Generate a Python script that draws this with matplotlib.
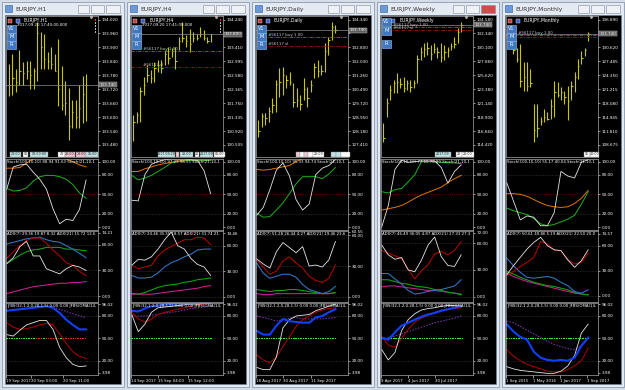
import numpy as np
import matplotlib
matplotlib.use("Agg")
import matplotlib.pyplot as plt
from matplotlib.patches import Rectangle
from matplotlib.transforms import blended_transform_factory

W, H = 625, 390

# ---------------------------------------------------------------- data
titles = ["EURJPY,H1", "EURJPY,H4", "EURJPY,Daily", "EURJPY,Weekly", "EURJPY,Monthly"]
stamps = ["2017.09.20 17:40:00.000", "2017.09.20 17:41:00.000", None, None, None]
current_price = [133.740, 133.800, 133.740, 133.740, 133.740]
buy_level = [None, 133.31, 133.35, 133.40, 133.35]
sl_level = [None, 132.83, 132.87, 132.87, 132.85]
sl_caption = [False, True, True, True, False]

h1_high = [133.827, 133.871, 133.806, 133.890, 133.835, 133.842, 133.842, 133.813, 134.011, 133.968,
           133.958, 133.878, 133.900, 133.871, 133.936, 133.820, 133.755, 133.726, 133.675, 133.675,
           133.740, 133.777, 133.784]
h1_low = [133.690, 133.697, 133.707, 133.736, 133.740, 133.762, 133.719, 133.719, 133.755, 133.806,
          133.806, 133.806, 133.806, 133.798, 133.646, 133.632, 133.610, 133.501, 133.552, 133.552,
          133.552, 133.574, 133.581]
h1_close = [133.74, 133.77, 133.75, 133.80, 133.79, 133.80, 133.78, 133.80, 133.96, 133.90, 133.85,
            133.84, 133.83, 133.80, 133.72, 133.65, 133.66, 133.56, 133.62, 133.60, 133.64, 133.70, 133.74]

h4_high = [131.40, 131.50, 132.24, 132.54, 132.88, 132.74, 132.98, 133.03, 133.03, 133.33, 133.43,
           133.38, 133.43, 133.72, 134.17, 133.77, 133.97, 133.87, 133.82, 134.02, 133.92, 133.72, 133.82]
h4_low = [130.61, 131.15, 131.20, 131.99, 132.39, 132.34, 132.39, 132.68, 132.64, 132.88, 132.93,
          133.13, 132.78, 133.33, 133.58, 133.43, 133.28, 133.58, 133.63, 133.72, 133.63, 133.53, 133.58]
h4_close = [131.2, 131.4, 132.1, 132.3, 132.6, 132.5, 132.8, 132.9, 132.8, 133.2, 133.1, 133.3,
            133.0, 133.6, 133.7, 133.6, 133.5, 133.7, 133.7, 133.8, 133.7, 133.6, 133.8]

d1_high = [128.79, 129.16, 129.16, 129.52, 129.98, 130.99, 131.64, 131.73, 131.27, 131.45, 130.81,
           130.53, 130.17, 131.09, 130.63, 130.99, 131.91, 132.10, 131.82, 133.02, 133.38, 134.21, 134.03]
d1_low = [127.87, 128.42, 128.51, 128.70, 129.16, 129.25, 130.08, 130.17, 130.54, 130.72, 129.52,
          129.52, 129.34, 129.89, 129.52, 130.35, 131.09, 131.18, 131.27, 131.45, 132.37, 133.20, 133.57]
d1_close = [128.2, 129.0, 128.9, 129.3, 129.6, 130.8, 130.9, 131.3, 131.0, 130.9, 129.8, 129.9,
            129.7, 130.5, 130.0, 130.7, 131.7, 131.5, 131.5, 132.6, 133.2, 133.9, 133.74]

w1_high = [117.90, 121.91, 124.05, 124.85, 125.92, 125.12, 125.39, 124.85, 124.85, 124.85, 128.86, 130.20,
           130.73, 131.00, 130.46, 130.73, 130.20, 130.73, 130.46, 130.20, 130.73, 131.80, 133.14, 134.21]
w1_low = [114.96, 118.97, 121.64, 122.71, 122.71, 123.51, 122.98, 123.25, 122.98, 123.51, 124.32, 128.06,
          128.59, 128.86, 128.06, 129.13, 128.33, 127.79, 128.06, 128.59, 129.66, 129.93, 130.73, 132.60]
w1_close = [115.5, 121.2, 123.3, 124.3, 124.5, 124.2, 123.6, 124.3, 123.8, 124.3, 128.3, 129.3,
            129.8, 130.0, 129.0, 129.8, 129.3, 128.5, 129.4, 129.7, 130.3, 130.6, 132.6, 133.74]

mn_high = [133.92, 131.69, 130.57, 131.32, 127.23, 127.23, 125.75, 117.94, 117.94, 114.97, 116.83, 116.09,
           119.06, 123.15, 122.77, 121.66, 120.92, 122.03, 123.15, 125.00, 127.97, 129.83, 130.57, 134.00]
mn_low = [130.57, 129.09, 127.23, 121.66, 120.92, 120.92, 121.66, 109.40, 110.51, 113.11, 113.86, 114.23,
          114.60, 114.97, 119.43, 118.69, 117.94, 114.23, 118.69, 120.55, 123.52, 126.86, 128.72, 132.00]
mn_close = [131.5, 130.0, 128.0, 123.0, 124.0, 122.0, 122.5, 112.0, 112.5, 114.0, 115.0, 114.5,
            117.5, 120.5, 120.0, 120.5, 119.5, 118.5, 122.0, 124.0, 126.5, 128.3, 130.0, 133.74]

h1_ticks = [134.020, 133.960, 133.900, 133.840, 133.780, 133.720, 133.660, 133.600, 133.540, 133.480]
h4_ticks = [134.240, 133.825, 133.410, 132.995, 132.580, 132.165, 131.750, 131.335, 130.920, 130.505]
d1_ticks = [134.340, 133.570, 132.800, 132.030, 131.260, 130.490, 129.720, 128.950, 128.180, 127.410]
w1_ticks = [134.580, 132.340, 130.100, 127.860, 125.620, 123.380, 121.140, 118.900, 116.660, 114.420]
mn_ticks = [136.890, 133.755, 130.620, 127.485, 124.350, 121.215, 118.080, 114.945, 111.810, 108.675]

# Stochastic (white = fast, green = Stoch(21), orange = Stoch(100)), 13 evenly spaced readings
h1_st_white = [58, 92, 95, 96, 84, 73, 58, 28, 5, 12, 10, 27, 72]
h1_st_green = [59, 55, 56, 60, 70, 77, 79, 79, 77, 73, 65, 52, 44]
h1_st_orange = [90, 90, 91, 98, 104, 106, 107, 107, 106, 104, 100, 95, 92]
h4_st_white = [41, 40, 80, 96, 100, 103, 104, 104, 104, 103, 102, 86, 51]
h4_st_green = [79, 72, 75, 79, 85, 91, 98, 100, 101, 102, 102, 102, 102]
h4_st_orange = [85, 85, 89, 92, 95, 97, 99, 101, 102, 102, 102, 102, 102]
d1_st_white = [18, 30, 57, 87, 98, 78, 42, 26, 35, 80, 90, 94, 103]
d1_st_green = [21, 15, 16, 26, 37, 51, 66, 77, 77, 77, 74, 81, 91]
d1_st_orange = [88, 87, 88, 90, 92, 94, 100, 105, 107, 107, 107, 107, 107]
w1_st_white = [0, 33, 88, 102, 99, 100, 101, 101, 101, 91, 67, 85, 95]
w1_st_green = [54, 52, 57, 59, 69, 80, 100, 100, 100, 99, 98, 98, 97]
w1_st_orange = [26, 28, 30, 33, 38, 44, 49, 53, 57, 61, 68, 74, 79]
mn_st_white = [68, 40, 11, 17, 15, 2, 2, 22, 85, 78, 75, 99, 103]
mn_st_green = [29, 25, 22, 19, 13, 5, 2, 4, 8, 12, 18, 35, 54]
mn_st_orange = [51, 51, 50, 47, 42, 37, 33, 31, 30, 31, 36, 44, 56]

# ADX
h1_adx_white = [38, 45, 58, 64, 47, 47, 32, 29, 26, 32, 36, 34, 30]
h1_adx_red = [44, 52, 59, 65, 68, 68, 62, 54, 47, 39, 36, 29, 24]
h1_adx_blue = [61, 63, 65, 67, 68, 69, 66, 64, 63, 59, 55, 50, 45]
h1_adx_green = [38, 43, 48, 52, 54, 55, 57, 57, 57, 55, 55, 54, 53]
h1_adx_magenta = [3, 5, 7, 9, 11, 12, 13, 14, 15, 15, 16, 16, 17]
h4_adx_white = [37, 44, 43, 47, 56, 67, 76, 60, 56, 45, 38, 35, 25]
h4_adx_red = [37, 33, 35, 37, 48, 55, 59, 63, 67, 67, 70, 69, 61]
h4_adx_blue = [25, 22, 22, 23, 28, 35, 40, 43, 47, 50, 55, 56, 56]
h4_adx_green = [4, 3, 5, 8, 11, 13, 14, 15, 17, 18, 20, 21, 22]
h4_adx_magenta = [3, 3, 3, 3, 4, 5, 6, 7, 8, 9, 10, 12, 13]
d1_adx_white = [37, 32, 28, 44, 53, 48, 43, 49, 30, 31, 29, 36, 54]
d1_adx_red = [36, 29, 22, 25, 35, 39, 33, 28, 20, 16, 14, 18, 31]
d1_adx_blue = [33, 23, 18, 20, 22, 22, 19, 12, 7, 5, 3, 5, 10]
d1_adx_green = [7, 6, 5, 6, 6, 7, 7, 6, 5, 4, 3, 3, 4]
d1_adx_magenta = [3, 2, 2, 3, 3, 3, 3, 3, 3, 3, 3, 3, 4]
w1_adx_white = [58, 47, 42, 44, 30, 28, 41, 58, 67, 45, 35, 34, 47]
w1_adx_red = [52, 49, 46, 43, 31, 20, 29, 36, 48, 51, 47, 52, 62]
w1_adx_blue = [26, 26, 20, 14, 7, 3, 4, 6, 7, 8, 10, 12, 19]
w1_adx_green = [19, 19, 17, 15, 14, 12, 11, 10, 8, 7, 5, 4, 2]
w1_adx_magenta = [11, 12, 12, 11, 10, 9, 8, 7, 7, 6, 5, 4, 3]
mn_adx_white = [25, 36, 46, 56, 64, 70, 60, 55, 54, 43, 34, 42, 55]
mn_adx_red = [24, 29, 35, 40, 46, 65, 62, 55, 54, 43, 38, 40, 51]
mn_adx_blue = [45, 36, 28, 22, 21, 22, 23, 21, 16, 12, 5, 3, 7]
mn_adx_green = [29, 26, 22, 19, 16, 14, 12, 11, 9, 7, 4, 2, 1]
mn_adx_magenta = [27, 23, 20, 17, 15, 13, 11, 9, 7, 5, 3, 2, 1]

# JFBS
h1_jf_blue = [87, 88, 89, 90, 91, 92, 93, 91, 84, 75, 68, 62, 62]
h1_jf_purple = [87, 88, 89, 90, 91, 92, 93, 92, 89, 86, 83, 80, 78]
h1_jf_red = [71, 65, 62, 63, 65, 68, 70, 68, 56, 43, 32, 26, 23]
h1_jf_white = [55, 53, 61, 68, 71, 74, 74, 62, 38, 24, 15, 12, 13]
h4_jf_blue = [87, 86, 90, 93, 94, 95, 96, 97, 97, 97, 98, 98, 98]
h4_jf_purple = [80, 80, 80, 81, 82, 84, 85, 86, 88, 90, 91, 92, 93]
h4_jf_red = [85, 76, 72, 76, 82, 85, 87, 89, 91, 93, 95, 96, 97]
h4_jf_white = [82, 59, 69, 85, 91, 92, 93, 94, 95, 96, 96, 97, 97]
d1_jf_blue = [60, 55, 55, 67, 76, 73, 72, 71, 71, 78, 80, 85, 89]
d1_jf_purple = [80, 78, 76, 73, 75, 77, 78, 76, 76, 76, 76, 77, 78]
d1_jf_red = [28, 21, 17, 25, 39, 52, 66, 75, 80, 85, 88, 90, 91]
d1_jf_white = [11, 8, 8, 25, 64, 75, 80, 81, 82, 87, 90, 93, 96]
w1_jf_blue = [51, 48, 58, 67, 71, 75, 79, 82, 84, 87, 89, 91, 93]
w1_jf_purple = [49, 51, 53, 56, 59, 62, 65, 68, 71, 73, 75, 77, 80]
w1_jf_red = [53, 41, 38, 50, 62, 72, 77, 81, 85, 88, 89, 90, 91]
w1_jf_white = [35, 21, 31, 60, 75, 83, 88, 90, 91, 93, 94, 94, 93]
mn_jf_blue = [69, 59, 52, 48, 32, 24, 21, 20, 21, 20, 24, 40, 51]
mn_jf_purple = [73, 71, 66, 61, 56, 51, 46, 42, 39, 36, 35, 40, 49]
mn_jf_red = [35, 26, 20, 15, 12, 9, 6, 5, 5, 8, 13, 20, 37]
mn_jf_white = [12, 9, 7, 6, 5, 4, 3, 3, 6, 13, 27, 57, 69]

# JFBS signal dots on the 50 level (1 = green, 0 = red), one per bar
h1_signal = [1, 1, 1, 1, 1, 1, 1, 1, 0, 0, 1, 0, 0, 0, 0, 1, 0, 0, 0, 0, 0, 0, 0]
h4_signal = [1] * 23
d1_signal = [1] * 23
w1_signal = [1] * 24
mn_signal = [1] * 24

stoch_titles = ["Stoch(100,10,10) 88.94 91.63 Stoch(21,10,10) 41.15",
                "Stoch(100,10,10) 97.29 98.55 Stoch(21,10,10) 97.01",
                "Stoch(100,10,10) 95.33 94.74 Stoch(21,10,10) 81.45",
                "Stoch(100,10,10) 77.15 78.80 Stoch(21,10,10) 96.12",
                "Stoch(100,10,10) 55.17 40.04 Stoch(21,10,10) 85.20"]
adx_titles = ["ADX(7) 29.36 19.87 8.32 ADX(21) 15.72 12.69 11.43",
              "ADX(7) 24.46 35.55 18.57 ADX(21) 31.74 21.89 13.02",
              "ADX(7) 51.28 26.44 4.27 ADX(21) 19.46 23.65 11.20",
              "ADX(7) 46.49 36.05 4.87 ADX(21) 27.33 27.34 5.71",
              "ADX(7) 50.61 40.86 5.19 ADX(21) 22.50 20.08 11.27"]
jf_title = "JFBS(32,1.2,0.28,1.5) 0.00 0.00 JFBS(OMA(14,2))"
adx_top = [74.21, 74.46, 63.55, 72.00, 74.57]
adx_ylim = [(-6.9, 76.2), (-6.2, 77.3), (-5.2, 64.3), (-6.0, 73.8), (-7.6, 77.6)]

date_labels = [["19 Sep 2017", "20 Sep 03:00", "20 Sep 11:00"],
               ["14 Sep 2017", "15 Sep 04:00", "15 Sep 12:00"],
               ["18 Aug 2017", "30 Aug 2017", "11 Sep 2017"],
               ["9 Apr 2017", "4 Jun 2017", "30 Jul 2017"],
               ["1 Sep 2015", "1 May 2016", "1 Jan 2017", "1 Sep 2017"]]
date_pos = [[-0.8, 6.3, 15.4], [-0.6, 7.0, 15.6], [-0.7, 7.0, 15.0],
            [-0.7, 7.3, 15.3], [-1.2, 6.8, 14.7, 22.6]]
x_limits = [(-0.85, 25.4), (-0.6, 25.5), (-0.7, 25.6), (-0.7, 26.5), (-1.2, 25.9)]

highs = [h1_high, h4_high, d1_high, w1_high, mn_high]
lows = [h1_low, h4_low, d1_low, w1_low, mn_low]
closes = [h1_close, h4_close, d1_close, w1_close, mn_close]
price_ticks = [h1_ticks, h4_ticks, d1_ticks, w1_ticks, mn_ticks]
stoch = [(h1_st_white, h1_st_green, h1_st_orange), (h4_st_white, h4_st_green, h4_st_orange),
         (d1_st_white, d1_st_green, d1_st_orange), (w1_st_white, w1_st_green, w1_st_orange),
         (mn_st_white, mn_st_green, mn_st_orange)]
adx = [(h1_adx_white, h1_adx_red, h1_adx_blue, h1_adx_green, h1_adx_magenta),
       (h4_adx_white, h4_adx_red, h4_adx_blue, h4_adx_green, h4_adx_magenta),
       (d1_adx_white, d1_adx_red, d1_adx_blue, d1_adx_green, d1_adx_magenta),
       (w1_adx_white, w1_adx_red, w1_adx_blue, w1_adx_green, w1_adx_magenta),
       (mn_adx_white, mn_adx_red, mn_adx_blue, mn_adx_green, mn_adx_magenta)]
jfbs = [(h1_jf_purple, h1_jf_blue, h1_jf_red, h1_jf_white),
        (h4_jf_purple, h4_jf_blue, h4_jf_red, h4_jf_white),
        (d1_jf_purple, d1_jf_blue, d1_jf_red, d1_jf_white),
        (w1_jf_purple, w1_jf_blue, w1_jf_red, w1_jf_white),
        (mn_jf_purple, mn_jf_blue, mn_jf_red, mn_jf_white)]
signals = [h1_signal, h4_signal, d1_signal, w1_signal, mn_signal]

# ---------------------------------------------------------------- layout / style
win_x = [3, 128, 253, 378, 503]
BG = "#d5dde8"
FRAME = "#e4eaf2"
EDGE = "#8b9bb0"
BAR = "#c8c800"
GRID = "#5a5a5a"
TXT = 3.0
PX_PER_STEP = 13.94   # vertical pixels between price labels

# tag boxes along the bottom of the price window: (x offset, width, colour, text)
tags = [[(4, 11, "#bfe3e3", "23:00"), (17, 5, "white", "01"), (24, 18, "#bfe3e3", "02:00:00"),
         (52, 7, "white", "23"), (59, 10, "#f2c6d4", "20:00"), (70, 10, "#f2c6d4", "14:00"),
         (80, 12, "#bfe3e3", "15:00")],
        [(27, 17, "#bfe3e3", "2017.09.20"), (45, 3, "#f2c6d4", ""), (49, 13, "#bfe3e3", "20:00"),
         (64, 4, "white", "20"), (69, 13, "#bfe3e3", "2017.09"), (83, 11, "white", "01:00")],
        [(40, 4, "#f2c6d4", ""), (44, 4, "white", ""), (48, 4, "#f2c6d4", ""), (52, 5, "white", ""),
         (57, 11, "white", "20:00"), (75, 5, "#bfe3e3", ""), (80, 5, "#bfe3e3", ""), (85, 9, "white", "")],
        [(54, 16, "#bfe3e3", "2017.09"), (75, 6, "white", "20"), (81, 12, "white", "20:00")],
        [(78, 6, "white", "15"), (84, 9, "white", "20:00")]]
btn_y = [(25, 33, 41), (25, 33, 41), (25, 33, 41), (18, 27, 40), (25, 33, 41)]


def px_axes(fig, x, y, w, h):
    return fig.add_axes([x / W, 1 - (y + h) / H, w / W, h / H])


def style(ax, xlim, ylim, ticks, labels):
    ax.set_facecolor("black")
    ax.set_xlim(*xlim)
    ax.set_ylim(*ylim)
    ax.yaxis.tick_right()
    ax.set_yticks(ticks)
    ax.set_yticklabels(labels)
    ax.tick_params(axis="y", colors="white", labelsize=TXT, length=1.5, width=0.4, pad=1)
    ax.tick_params(axis="x", bottom=False, labelbottom=False)
    for s in ax.spines.values():
        s.set_color("#a8a8a8")
        s.set_linewidth(0.5)


sub_texts = []


def sub_title(ax, text):
    t = ax.text(0.01, 0.985, text, transform=ax.transAxes, fontsize=2.8, color="white",
                va="top", ha="left", clip_on=True)
    sub_texts.append((ax, t))


fig = plt.figure(figsize=(W / 100, H / 100), dpi=100, facecolor=BG)
bg = fig.add_axes([0, 0, 1, 1])
bg.set_xlim(0, W)
bg.set_ylim(H, 0)
bg.axis("off")

for i, x0 in enumerate(win_x):
    # window frame, title bar and buttons
    bg.add_patch(Rectangle((x0 - 1, 2), 122, 385, fc=FRAME, ec=EDGE, lw=0.6))
    bg.add_patch(Rectangle((x0 + 2, 5), 7, 7, fc="#6a9ad8", ec="#2d5c9a", lw=0.4))
    bg.text(x0 + 12, 9, titles[i], fontsize=4.3, color="#333333", va="center")
    for bx, bw in [(75, 11), (88, 13), (103, 14)]:
        fc = "#c9504a" if (i == 3 and bx == 103) else "#eef2f7"
        bg.add_patch(Rectangle((x0 + bx, 5), bw, 8, fc=fc, ec="#7d8a9a", lw=0.4))
    bg.add_patch(Rectangle((x0 + 2, 15), 116, 369, fc="black", ec="#6f7f92", lw=0.5))

    n = len(highs[i])
    bars = np.arange(n)
    xlim = x_limits[i]
    grid = np.linspace(xlim[0] + 0.2, n - 1, 13)

    # ---- price window
    ticks = price_ticks[i]
    step = ticks[0] - ticks[1]
    ylim = (ticks[0] - (157 - 19.5) / PX_PER_STEP * step, ticks[0] + (19.5 - 16) / PX_PER_STEP * step)
    # the terminal hides a scale label sitting under the current-price tag
    labels = ["" if abs(t - current_price[i]) / step * PX_PER_STEP < 4 else "%.3f" % t for t in ticks]
    ax = px_axes(fig, x0 + 3, 16, 92, 141)
    style(ax, xlim, ylim, ticks, labels)
    ax.vlines(bars, lows[i], highs[i], color=BAR, lw=0.8)
    ax.hlines(closes[i], bars, bars + 0.4, color=BAR, lw=0.8)
    ax.axhline(current_price[i], color="#8c8c8c", lw=0.5)
    tr = blended_transform_factory(ax.transAxes, ax.transData)
    ax.text(1.02, current_price[i], "%.3f" % current_price[i], transform=tr, fontsize=TXT,
            color="white", va="center", ha="left",
            bbox=dict(boxstyle="square,pad=0.15", fc="#5c5c5c", ec="#d0d0d0", lw=0.3))
    if buy_level[i] is not None:
        ax.axhline(buy_level[i], color="#1fa01f", lw=0.6, ls=(0, (4, 1.5, 1, 1.5)))
        ax.axhline(sl_level[i], color="#b01010", lw=0.6, ls=(0, (4, 1.5, 1, 1.5)))
        ax.text(0.13, buy_level[i], "#56117 buy 1.00", transform=tr, fontsize=2.9,
                color="#c8c8c8", va="bottom")
        if sl_caption[i]:
            ax.text(0.13, sl_level[i], "#56117 sl", transform=tr, fontsize=2.9,
                    color="#c8c8c8", va="bottom")

    # ---- stochastic
    ax = px_axes(fig, x0 + 3, 159, 92, 71)
    style(ax, xlim, (-4.5, 104), [100, 80, 50, 20, 0], ["100.00", "80.00", "50.00", "20.00", "0.00"])
    ax.axhline(50, color="#8a0000", lw=0.6, ls=":")
    for lv in (80, 20):
        ax.axhline(lv, color=GRID, lw=0.4, ls=":")
    st_white, st_green, st_orange = stoch[i]
    ax.plot(grid, st_orange, color="#e07800", lw=0.7)
    ax.plot(grid, st_green, color="#1fb01f", lw=0.7)
    ax.plot(grid, st_white, color="#e6e6e6", lw=0.6)
    sub_title(ax, stoch_titles[i])

    # ---- ADX
    ax = px_axes(fig, x0 + 3, 231, 92, 71)
    style(ax, xlim, adx_ylim[i], [adx_top[i], 60, 30, 0],
          ["%.2f" % adx_top[i], "60.00", "30.00", "0.00"])
    for lv in (60, 30, 0):
        ax.axhline(lv, color=GRID, lw=0.4, ls=":")
    a_white, a_red, a_blue, a_green, a_mag = adx[i]
    ax.plot(grid, a_mag, color="#c0208c", lw=0.8)
    ax.plot(grid, a_green, color="#10a010", lw=0.8)
    ax.plot(grid, a_blue, color="#2f72c0", lw=0.8)
    ax.plot(grid, a_red, color="#c00000", lw=0.7)
    ax.plot(grid, a_white, color="#e6e6e6", lw=0.6)
    sub_title(ax, adx_titles[i])

    # ---- JFBS
    ax = px_axes(fig, x0 + 3, 303, 92, 72)
    style(ax, xlim, (0.8, 97.4), [96, 80, 50, 20, 4], ["96.02", "80.00", "50.00", "20.00", "3.98"])
    for lv in (80, 20):
        ax.axhline(lv, color=GRID, lw=0.4, ls=":")
    j_purple, j_blue, j_red, j_white = jfbs[i]
    dots = np.arange(xlim[0] + 0.3, n - 0.5, 0.7)
    sig = np.array(signals[i])[np.clip(np.round(dots).astype(int), 0, n - 1)]
    ax.scatter(dots, np.full(len(dots), 50.0), s=1.1, marker="s", lw=0,
               c=np.where(sig == 1, "#20ff20", "#ff2020"))
    ax.plot(grid, j_purple, color="#8a3cc8", lw=0.7, ls=(0, (1.5, 1.5)))
    ax.plot(grid, j_red, color="#b00000", lw=0.7)
    ax.plot(grid, j_white, color="#e6e6e6", lw=0.6)
    ax.plot(grid, j_blue, color="#1040ff", lw=1.5)
    sub_title(ax, jf_title)
    ax.set_xticks(date_pos[i])
    ax.set_xticklabels(date_labels[i])
    ax.tick_params(axis="x", bottom=True, labelbottom=True, colors="white", labelsize=2.8,
                   length=2, width=0.4, pad=0.8)
    for lab in ax.get_xticklabels():
        lab.set_ha("left")

# ---------------------------------------------------------------- overlays on top
top = fig.add_axes([0, 0, 1, 1])
top.set_xlim(0, W)
top.set_ylim(H, 0)
top.axis("off")
top.patch.set_alpha(0)

for i, x0 in enumerate(win_x):
    top.add_patch(Rectangle((x0 + 5, 18.5), 4, 4, fc="#c83c3c", ec="#dddddd", lw=0.3))
    top.add_patch(Rectangle((x0 + 13, 18.5), 4, 4, fc="#3c5cc8", ec="#dddddd", lw=0.3))
    top.text(x0 + 21, 20.5, titles[i], fontsize=3.3, color="white", va="center")
    if stamps[i]:
        top.text(x0 + 14, 25.3, stamps[i], fontsize=2.9, color="white", va="center")
        for k in range(5):
            top.add_patch(Rectangle((x0 + 91.5, 19 + 3 * k), 1.6, 1.6,
                                    fc="#ff2020" if k == 0 else "#bbbbbb", lw=0))
    for lab, yb in zip(["V1", "M", "R"], btn_y[i]):
        top.add_patch(Rectangle((x0 + 4, yb), 9, 7.5, fc="#3f78c2", ec="#9cc0ea", lw=0.4))
        top.text(x0 + 8.5, yb + 3.9, lab, fontsize=3.6, color="white", ha="center", va="center")
    top.plot([x0 + 88], [17], marker="v", ms=1.6, color="#b0b0b0")
    for tx, tw, tc, tt in tags[i]:
        top.add_patch(Rectangle((x0 + 3 + tx, 151.5), tw, 5, fc=tc, ec="#909090", lw=0.3))
        if tt:
            top.text(x0 + 3 + tx + tw / 2, 154.1, tt, fontsize=2.3, color="#202020",
                     ha="center", va="center", clip_on=True)

# indicator captions run past the window edge in the terminal; keep what fits
renderer = fig.canvas.get_renderer()
for ax, t in sub_texts:
    right = ax.get_window_extent(renderer).x1 - 1
    while t.get_window_extent(renderer).x1 > right:
        t.set_text(t.get_text()[:-1])

fig.savefig("out.png", dpi=100, facecolor=BG)
